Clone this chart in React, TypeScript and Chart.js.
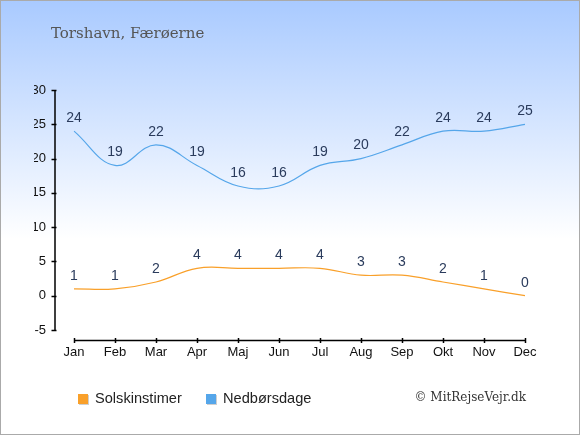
import { useEffect, useRef } from 'react';
import { Chart, registerables, type ChartConfiguration, type Plugin } from 'chart.js';

Chart.register(...registerables);

const MONTHS = ['Jan', 'Feb', 'Mar', 'Apr', 'Maj', 'Jun', 'Jul', 'Aug', 'Sep', 'Okt', 'Nov', 'Dec'];
const SUN_HOURS = [1, 1, 2, 4, 4, 4, 4, 3, 3, 2, 1, 0];
const RAIN_DAYS = [24, 19, 22, 19, 16, 16, 19, 20, 22, 24, 24, 25];
const Y_TICKS = [-5, 0, 5, 10, 15, 20, 25, 30];

const ORANGE = '#f9a02a';
const BLUE = '#55a6ea';
const SANS = '"Liberation Sans", Arial, sans-serif';
const SERIF = '"DejaVu Serif", serif';

// backdrop, hand-drawn axes, point labels, legend and credits
const decor: Plugin<'line'> = {
  id: 'decor',
  beforeDraw(chart) {
    const { ctx, width, height } = chart;
    const g = ctx.createLinearGradient(0, 0, 0, height);
    g.addColorStop(0, '#a9caff');
    g.addColorStop(0.55, '#ffffff');
    g.addColorStop(1, '#ffffff');
    ctx.save();
    ctx.fillStyle = g;
    ctx.fillRect(0, 0, width, height);

    ctx.fillStyle = '#555555';
    ctx.font = `15px ${SERIF}`;
    ctx.textBaseline = 'alphabetic';
    ctx.fillText('Torshavn, Færøerne', 50, 37);
    ctx.restore();
  },
  afterDraw(chart) {
    const { ctx } = chart;
    const x = chart.scales.x;
    const y = chart.scales.y;
    ctx.save();
    ctx.strokeStyle = '#000000';
    ctx.lineWidth = 1.5;

    // y axis
    const ax = 54;
    ctx.beginPath();
    ctx.moveTo(ax, y.getPixelForValue(30));
    ctx.lineTo(ax, y.getPixelForValue(-5));
    Y_TICKS.forEach((v) => {
      const py = Math.round(y.getPixelForValue(v)) + 0.5;
      ctx.moveTo(ax - 3.5, py);
      ctx.lineTo(ax + 1.5, py);
    });
    ctx.stroke();

    // x axis
    const ay = 339.5;
    ctx.beginPath();
    ctx.moveTo(x.getPixelForValue(0), ay);
    ctx.lineTo(x.getPixelForValue(MONTHS.length - 1), ay);
    MONTHS.forEach((_, i) => {
      const px = Math.round(x.getPixelForValue(i)) + 0.5;
      ctx.moveTo(px, ay - 2.5);
      ctx.lineTo(px, ay + 2.5);
    });
    ctx.stroke();

    // point labels
    ctx.fillStyle = '#2a3b5c';
    ctx.font = `14px ${SANS}`;
    ctx.textAlign = 'center';
    ctx.textBaseline = 'middle';
    chart.data.datasets.forEach((ds, di) => {
      const meta = chart.getDatasetMeta(di);
      meta.data.forEach((pt, i) => {
        ctx.fillText(String(ds.data[i]), pt.x, pt.y - 13);
      });
    });

    // legend
    const items = [
      { label: chart.data.datasets[0].label ?? '', color: ORANGE, x: 77 },
      { label: chart.data.datasets[1].label ?? '', color: BLUE, x: 205 },
    ];
    ctx.textAlign = 'left';
    ctx.font = `14.6px ${SANS}`;
    items.forEach((it) => {
      ctx.fillStyle = '#cfcfcf';
      ctx.fillRect(it.x + 1, 394, 10, 10);
      ctx.fillStyle = it.color;
      ctx.fillRect(it.x, 393, 10, 10);
      ctx.fillStyle = '#222222';
      ctx.fillText(it.label, it.x + 17, 398);
    });

    // credits
    ctx.textAlign = 'right';
    ctx.font = `12px ${SERIF}`;
    ctx.fillStyle = '#333333';
    ctx.fillText('© MitRejseVejr.dk', 525, 397);
    ctx.restore();
  },
};

export default function App() {
  const canvasRef = useRef<HTMLCanvasElement | null>(null);

  useEffect(() => {
    document.body.style.margin = '0';
    const canvas = canvasRef.current;
    if (!canvas) return;

    const config: ChartConfiguration<'line'> = {
      type: 'line',
      data: {
        labels: MONTHS,
        datasets: [
          {
            label: 'Solskinstimer',
            data: SUN_HOURS,
            borderColor: ORANGE,
            borderWidth: 1.2,
            pointRadius: 0,
            tension: 0.4,
            fill: false,
          },
          {
            label: 'Nedbørsdage',
            data: RAIN_DAYS,
            borderColor: BLUE,
            borderWidth: 1.2,
            pointRadius: 0,
            tension: 0.4,
            fill: false,
          },
        ],
      },
      options: {
        animation: false,
        responsive: true,
        maintainAspectRatio: false,
        layout: { padding: { left: 33, right: 54, top: 89, bottom: 74 } },
        plugins: {
          legend: { display: false },
          tooltip: { enabled: false },
        },
        scales: {
          x: {
            grid: { display: false, drawTicks: false },
            border: { display: false },
            ticks: {
              color: '#111111',
              font: { family: SANS, size: 13 },
              padding: 15,
              maxRotation: 0,
            },
            afterFit: (s) => {
              s.height = 30;
            },
          },
          y: {
            min: -5,
            max: 30,
            grid: { display: false, drawTicks: false },
            border: { display: false },
            ticks: {
              stepSize: 5,
              color: '#111111',
              font: { family: SANS, size: 13 },
              padding: 28,
            },
            afterFit: (s) => {
              s.width = 40;
            },
          },
        },
      },
      plugins: [decor],
    };

    const chart = new Chart(canvas, config);
    return () => chart.destroy();
  }, []);

  return (
    <div
      style={{
        width: 578,
        height: 433,
        border: '1px solid #aaaaaa',
        position: 'relative',
      }}
    >
      <canvas ref={canvasRef} role="img" aria-label="Solskinstimer og nedbørsdage i Torshavn" />
    </div>
  );
}
